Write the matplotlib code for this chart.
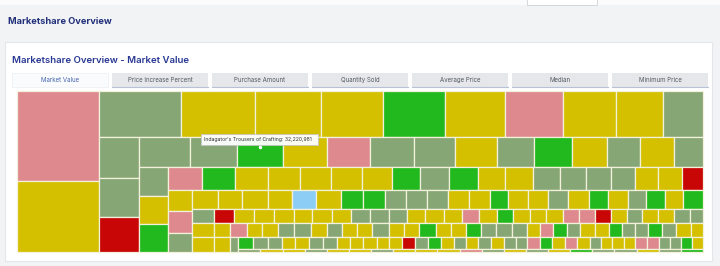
import matplotlib.pyplot as plt
from matplotlib.patches import Rectangle

# market values (millions) per layout strip; strips alternate column / row
s01_values = [172.0, 135.7]
s01_status = "PY"
s02_values = [87.9, 79.3, 70.7, 66.5, 66.5, 64.3, 62.2, 56.8, 50.4, 42.9]
s02_status = "SYYYGYPYYS"
s03_values = [38.2, 36.3, 32.6]
s03_status = "SSR"
s04_values = [35.6, 32.9, 32.22, 30.8, 30.1, 30.8, 28.7, 29.4, 25.9, 26.6, 24.5, 23.1, 23.8, 20.3]
s04_status = "SSGYPSSYSGYSYS"
s05_values = [19.6, 18.9, 18.9]
s05_status = "SYG"
s06_values = [18.2, 17.7, 17.7, 17.2, 16.6, 16.6, 16.1, 15.0, 15.5, 15.5, 14.5, 15.0, 14.5,
              13.9, 13.4, 12.9, 12.3, 12.9, 11.3]
s06_status = "PGYYYYYGSGYYSSSSYYR"
s07_values = [11.7, 12.3, 10.6]
s07_status = "YPS"
s08_values = [11.5, 10.6, 11.5, 10.6, 10.6, 11.1, 9.7, 9.7, 9.7, 9.3, 9.3, 9.3, 8.9, 8.0,
              8.9, 8.9, 8.9, 9.3, 8.4, 8.9, 8.0, 8.4, 8.0, 8.9]
s08_status = "YYYYBYGGSSSYYGYYSYGYSGYG"
s09_values = [7.2, 7.2, 7.7]
s09_status = "SYY"
s10_values = [6.5, 6.5, 6.5, 6.5, 5.9, 6.5, 6.2, 6.2, 6.2, 5.9, 5.9, 5.9, 5.9, 5.5, 5.9, 5.2,
              5.5, 5.5, 5.5, 5.2, 5.2, 5.2, 5.2, 4.9, 5.2, 5.2, 5.2, 4.2]
s10_status = "RYYYYYYSSSYYYPYGYYYPPRYSYYSS"
s11_values = [5.2, 5.6]
s11_status = "YY"
s12_values = [5.5, 4.9, 5.2, 5.2, 5.5, 5.2, 4.9, 4.9, 4.9, 5.5, 4.9, 4.9, 5.5, 4.9, 4.9, 4.9,
              4.9, 5.2, 4.9, 4.2, 4.2, 4.6, 4.2, 4.9, 4.6, 4.2, 4.2, 4.2, 4.6, 4.6, 4.9, 3.9]
s12_status = "PYYSSYSYYSYYGYYGSSSYPGSYYGSSGSYY"
s13_values = [2.8]
s13_status = "S"
s14_values = [4.2, 4.2, 3.9, 3.6, 3.9, 3.9, 3.9, 3.6, 3.6, 3.9, 3.6, 3.6, 3.6, 3.6, 3.6, 3.6,
              3.4, 3.4, 3.6, 3.6, 3.4, 3.1, 3.6, 3.4, 3.6, 3.4, 3.6, 3.1, 3.1, 3.4, 3.1, 3.1,
              3.4, 3.1, 3.1, 3.1, 3.1]
s14_status = "GSSYYSSYYYYYRSGYSYSYSSPGYPYSYYYPPSSGY"
s15_values = [1.5]
s15_status = "S"
s16_values = [1.5] * 20
s16_status = "YYSYYSYYYPSYSYGSSYSG"

strips = [(s01_values, s01_status), (s02_values, s02_status), (s03_values, s03_status),
          (s04_values, s04_status), (s05_values, s05_status), (s06_values, s06_status),
          (s07_values, s07_status), (s08_values, s08_status), (s09_values, s09_status),
          (s10_values, s10_status), (s11_values, s11_status), (s12_values, s12_status),
          (s13_values, s13_status), (s14_values, s14_status), (s15_values, s15_status),
          (s16_values, s16_status)]

status_colors = {'R': '#c80606', 'P': '#de898d', 'Y': '#d5c000',
                 'S': '#87a675', 'G': '#22b91e', 'B': '#8ccdf5'}

tab_labels = ["Market Value", "Price Increase Percent", "Purchase Amount", "Quantity Sold",
              "Average Price", "Median", "Minimum Price"]
hover_name = "Indagator's Trousers of Crafting"
hover_value = 32220981


def strip_layout(strips, x, y, w, h):
    rects = []
    remaining = sum(sum(v) for v, s in strips)
    vertical = True
    for vals, codes in strips:
        tot = sum(vals)
        frac = tot / remaining
        if vertical:
            cw = w * frac
            cy = y
            for v, c in zip(vals, codes):
                ch = h * v / tot
                rects.append((x, cy, cw, ch, c, v))
                cy += ch
            x += cw
            w -= cw
        else:
            rh = h * frac
            cx = x
            for v, c in zip(vals, codes):
                cwid = w * v / tot
                rects.append((cx, y, cwid, rh, c, v))
                cx += cwid
            y += rh
            h -= rh
        remaining -= tot
        vertical = not vertical
    return rects


plt.rcParams['font.family'] = ['Inter', 'DejaVu Sans']

fig = plt.figure(figsize=(7.2, 2.66), dpi=100)
fig.patch.set_facecolor('#f2f3f5')
ax = fig.add_axes([0, 0, 1, 1])
ax.set_xlim(0, 720)
ax.set_ylim(266, 0)
ax.axis('off')

# top bar bits
ax.add_patch(Rectangle((0, 0), 720, 5, facecolor='#fbfbfc', edgecolor='none'))
ax.add_patch(Rectangle((527, -2), 70, 6.5, facecolor='white', edgecolor='#cfd2d6', lw=0.6))
ax.text(8, 21, "Marketshare Overview", fontsize=6.7, fontweight='bold',
        color='#22307a', va='center', ha='left')

# card
ax.add_patch(Rectangle((5, 42), 707, 219, facecolor='white', edgecolor='#e4e6ea', lw=0.8))
ax.text(12, 60.5, "Marketshare Overview - Market Value", fontsize=6.95, fontweight='semibold',
        color='#283894', va='center', ha='left')

# tabs
for i, lab in enumerate(tab_labels):
    tx = 12 + i * 100
    if i == 0:
        ax.add_patch(Rectangle((tx, 73), 96, 14, facecolor='#fafbfc', edgecolor='#eceef1', lw=0.5))
        col = '#4463b0'
    else:
        ax.add_patch(Rectangle((tx, 73), 96, 14, facecolor='#e6e7ea', edgecolor='none'))
        ax.plot([tx, tx + 96], [86.6, 86.6], color='#b8c2d6', lw=0.8)
        col = '#555a63'
    ax.text(tx + 48, 80, lab, fontsize=4.4, color=col, ha='center', va='center')

# treemap
cells = strip_layout(strips, 17, 91, 686, 161)
for (x, y, w, h, c, v) in cells:
    ax.add_patch(Rectangle((x, y), w, h, facecolor=status_colors[c],
                           edgecolor='#f3f1dc', lw=0.9))

# tooltip over the hovered cell
hx, hy, hw, hh, hc, hv = [r for r in cells if abs(r[5] - hover_value / 1e6) < 0.01][0]
cxm = hx + hw / 2
label = f"{hover_name}: {hover_value:,}"
ax.add_patch(Rectangle((cxm - 58.5, hy - 3), 117, 11, facecolor='white', alpha=0.95,
                       edgecolor='#c4c4c4', lw=0.6, zorder=5))
ax.text(cxm - 55.5, hy + 2.6, label, fontsize=3.7, color='#333333',
        ha='left', va='center', zorder=6)
ax.plot([cxm], [hy + 9.5], marker='o', ms=1.5, color='white', zorder=6)

fig.savefig('out.png', dpi=100, facecolor=fig.get_facecolor())
